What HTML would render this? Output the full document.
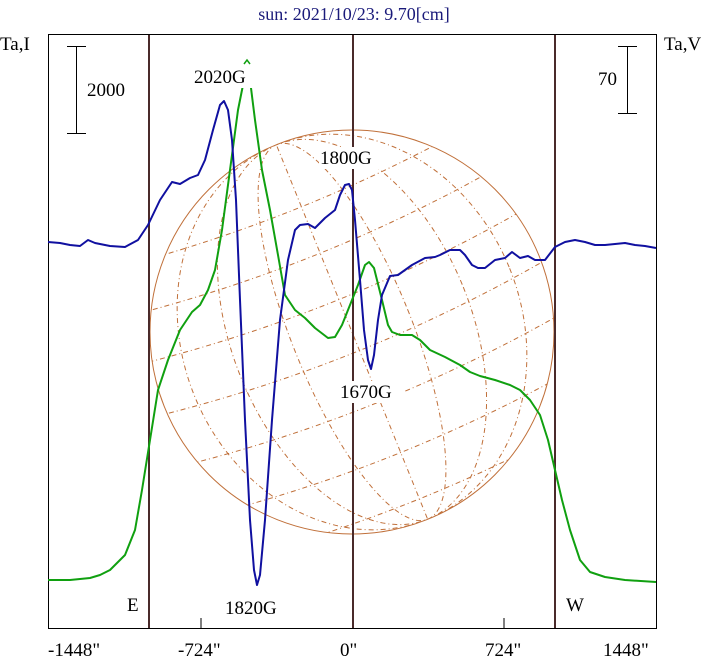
<!DOCTYPE html>
<html><head><meta charset="utf-8"><style>
html,body{margin:0;padding:0;background:#fff}
svg{display:block}
text{font-family:"Liberation Serif",serif;font-size:19px;fill:#000}
</style></head><body>
<svg width="708" height="662" viewBox="0 0 708 662" xmlns="http://www.w3.org/2000/svg">
<defs><clipPath id="c"><circle cx="352" cy="332" r="202"/></clipPath>
<clipPath id="plot"><rect x="48" y="34" width="609" height="594"/></clipPath></defs>
<text x="354" y="20" text-anchor="middle" style="fill:#1a1a7a;font-size:18px">sun: 2021/10/23: 9.70[cm]</text>
<text x="0" y="50">Ta,I</text>
<text x="664" y="50">Ta,V</text>
<!-- sphere grid -->
<g clip-path="url(#c)" fill="none" stroke="#c0703a" stroke-width="1" stroke-dasharray="5,3,1,3" transform="rotate(-22 352 332)">
<ellipse cx="352" cy="332" rx="60" ry="202"/>
<ellipse cx="352" cy="332" rx="120" ry="202"/>
<ellipse cx="352" cy="332" rx="170" ry="202"/>
<line x1="352" y1="120" x2="352" y2="544"/>
<path d="M140 232 Q352 262 564 232"/>
<path d="M140 282 Q352 312 564 282"/>
<path d="M140 337 Q352 367 564 337"/>
<path d="M140 392 Q352 422 564 392"/>
<path d="M140 447 Q352 477 564 447"/>
<path d="M140 182 Q352 212 564 182"/>
<path d="M140 497 Q352 527 564 497"/>
</g>
<circle cx="352" cy="332" r="202" fill="none" stroke="#c0703a" stroke-width="1"/>
<!-- frame -->
<rect x="48.5" y="34.5" width="608" height="594" fill="none" stroke="#000" stroke-width="1"/>
<g stroke="#4a2a2a" stroke-width="2"><line x1="149" y1="35" x2="149" y2="628"/><line x1="353" y1="35" x2="353" y2="628"/><line x1="555" y1="35" x2="555" y2="628"/></g>
<g stroke="#000"><line x1="201" y1="618" x2="201" y2="628"/><line x1="504" y1="618" x2="504" y2="628"/>
<line x1="76.5" y1="46" x2="76.5" y2="133"/><line x1="67" y1="46.5" x2="86" y2="46.5"/><line x1="67" y1="133.5" x2="86" y2="133.5"/>
<line x1="627.5" y1="46" x2="627.5" y2="113"/><line x1="618" y1="46.5" x2="637" y2="46.5"/><line x1="618" y1="113.5" x2="637" y2="113.5"/></g>
<text x="87" y="96">2000</text>
<text x="598" y="85">70</text>
<g clip-path="url(#plot)" fill="none" stroke-width="2" stroke-linejoin="round">
<polyline stroke="#10a010" points="48,580 70,580 90,578 100,575 110,570 125,555 135,530 142,490 150,440 158,390 168,360 180,330 192,312 200,305 208,290 215,270 222,230 230,170 238,110 244,80 247,72 250,80 255,120 262,170 270,210 278,255 285,295 295,310 305,318 315,328 328,338 335,337 342,325 350,305 358,285 365,265 369,262 374,268 382,300 388,325 392,332 400,335 412,335 420,340 430,350 445,357 460,365 470,372 480,376 495,380 510,385 520,390 530,400 540,415 548,440 555,470 562,500 570,530 580,560 590,572 605,577 625,580 656,582"/>
<polyline stroke="#1010a0" points="48,242 60,243 70,245 80,246 88,240 95,243 110,246 125,247 138,240 148,225 160,200 172,182 180,184 190,178 198,175 205,160 213,130 220,105 224,101 228,110 232,140 236,200 240,300 245,420 250,520 254,570 257,585 260,575 265,520 272,420 280,320 288,260 295,230 300,225 308,224 315,228 325,218 335,210 340,195 345,185 349,184 352,190 355,220 360,280 364,330 368,360 371,369 374,355 378,320 382,295 390,276 398,275 405,270 412,265 425,258 435,257 440,255 450,250 460,250 465,255 472,265 478,268 485,268 495,260 505,258 512,252 520,258 528,256 535,260 545,260 555,247 565,242 575,240 585,242 595,245 605,245 615,244 625,243 635,245 645,246 656,248"/>
</g>
<polyline points="244,64 247,60 250,64" fill="none" stroke="#10a010" stroke-width="1.5"/>
<g>
<rect x="193" y="66" width="64" height="22" fill="#fff"/><text x="194" y="83">2020G</text>
<rect x="319" y="147" width="64" height="22" fill="#fff"/><text x="320" y="164">1800G</text>
<rect x="339" y="381" width="64" height="22" fill="#fff"/><text x="340" y="398">1670G</text>
<text x="225" y="614">1820G</text>
<text x="127" y="611">E</text>
<text x="566" y="611">W</text>
</g>
<g style="font-size:19px">
<text x="48" y="656">-1448"</text>
<text x="178" y="656">-724"</text>
<text x="340" y="656">0"</text>
<text x="485" y="656">724"</text>
<text x="603" y="656">1448"</text>
</g>
</svg>
</body></html>
